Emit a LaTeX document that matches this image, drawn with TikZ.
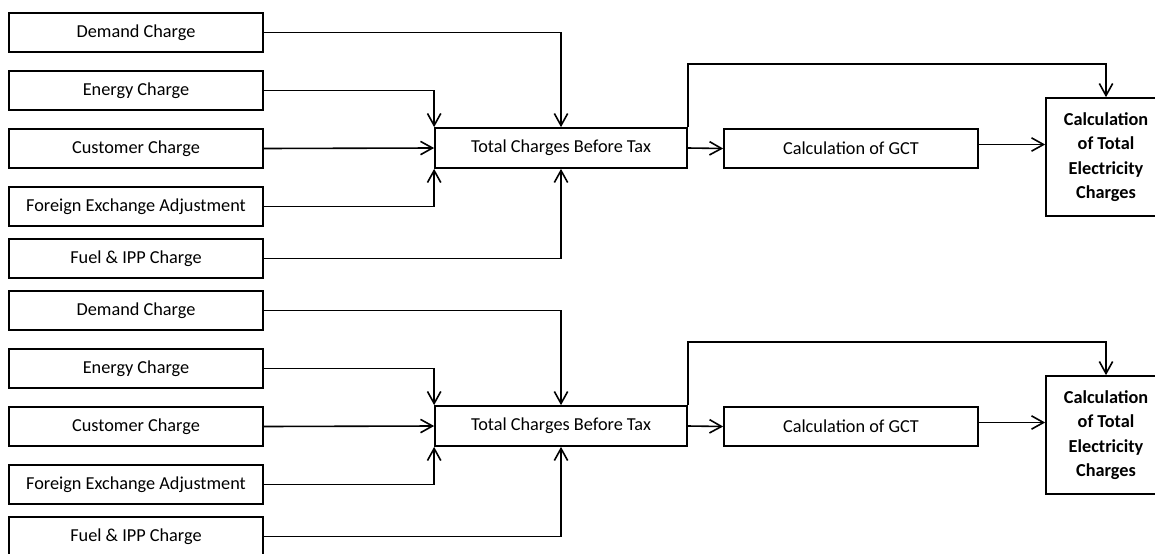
\documentclass[tikz,border=0pt]{standalone}
\usepackage{fontspec}
\setmainfont{Carlito}
\usetikzlibrary{arrows.meta}

\begin{document}
\begin{tikzpicture}[x=0.75pt,y=-0.75pt,
  >={Straight Barb[length=9pt,width=10pt]},
  every node/.style={font=\fontsize{13.7}{18.4}\selectfont},
  inbox/.style={rectangle,
       draw,
       line width=1.3pt,
       inner sep=0pt,
       minimum width=190.5pt,
       minimum height=29.5pt},
  finbox/.style={rectangle,
       draw,
       line width=1.3pt,
       inner sep=0pt,
       align=center,
       font=\bfseries\fontsize{13.7}{18.4}\selectfont,
       minimum width=90pt,
       minimum height=88.5pt},
  link/.style={->, line width=1.2pt}]
\clip (0,0) rectangle (1155,553);
\foreach \dy/\s in {0/t,278/b}{
\node [inbox](dem\s) at (136,32.5+\dy) {Demand Charge};
\node [inbox](ene\s) at (136,90.5+\dy) {Energy Charge};
\node [inbox](cus\s) at (136,148.5+\dy) {Customer Charge};
\node [inbox](fx\s) at (136,206.5+\dy) {Foreign Exchange Adjustment};
\node [inbox](fuel\s) at (136,258.5+\dy) {Fuel \& IPP Charge};
\node [inbox,
       minimum width=189pt,
       minimum height=30pt](tot\s) at (561,148+\dy) {Total Charges Before Tax};
\node [inbox](gct\s) at (851,148.5+\dy) {Calculation of GCT};
\node [finbox](fin\s) at (1106,157+\dy) {Calculation\\of Total\\Electricity\\Charges};
\coordinate (over\s) at (900,64+\dy);
% inputs to the total
\draw [link] (dem\s.east) -| (tot\s.north);
\draw [link] (ene\s.east) -| (tot\s.north west);
\draw [link] (cus\s.east) -- (tot\s.west);
\draw [link] (fx\s.east) -| (tot\s.south west);
\draw [link] (fuel\s.east) -| (tot\s.south);
% total, tax and result
\draw [link] (tot\s.east) -- (gct\s.west);
\draw [link] (tot\s.north east) |- (over\s) -| (fin\s.north);
\draw [link] ([yshift=3pt]gct\s.east) -- ([yshift=3pt]gct\s.east -| fin\s.west);
}
\end{tikzpicture}
\end{document}
